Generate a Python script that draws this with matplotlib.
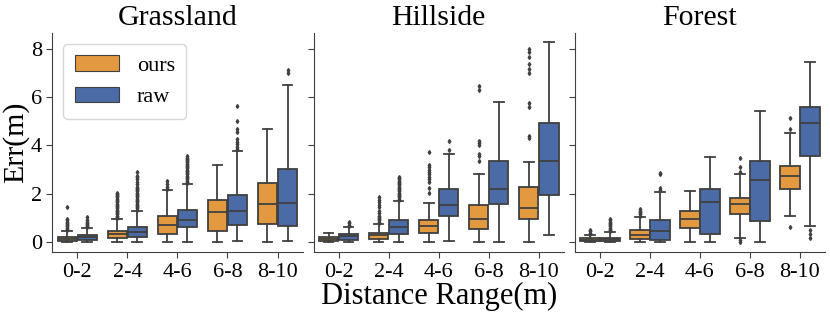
import matplotlib
matplotlib.use("Agg")
import matplotlib.pyplot as plt
from matplotlib.patches import Patch

plt.rcParams['font.family'] = ['Liberation Serif', 'DejaVu Serif']

# categories and colours
ranges = ['0-2', '2-4', '4-6', '6-8', '8-10']
scenes = ['Grassland', 'Hillside', 'Forest']
methods = ['ours', 'raw']
colors = {'ours': '#E3993F', 'raw': '#4A6BA6'}

# box stats per range: [whislo, q1, median, q3, whishi]
grass_ours = [[0, 0.06, 0.14, 0.22, 0.45], [0, 0.19, 0.34, 0.48, 0.95], [0, 0.36, 0.70, 1.08, 2.14],
              [0, 0.46, 1.23, 1.74, 3.20], [0, 0.76, 1.60, 2.44, 4.66]]
grass_raw = [[0, 0.10, 0.20, 0.30, 0.58], [0, 0.22, 0.42, 0.64, 1.30], [0, 0.63, 0.91, 1.35, 2.39],
             [0.03, 0.73, 1.31, 1.97, 3.78], [0.03, 0.68, 1.63, 3.03, 6.48]]
hill_ours = [[0, 0.05, 0.12, 0.20, 0.40], [0, 0.12, 0.28, 0.40, 0.77], [0, 0.40, 0.69, 0.92, 1.64],
             [0, 0.55, 0.95, 1.52, 2.80], [0, 0.94, 1.42, 2.29, 3.32]]
hill_raw = [[0, 0.11, 0.25, 0.34, 0.63], [0, 0.36, 0.61, 0.90, 1.70], [0.03, 1.09, 1.53, 2.18, 3.64],
            [0, 1.56, 2.18, 3.36, 5.79], [0.28, 1.94, 3.36, 4.94, 8.26]]
forest_ours = [[0, 0.03, 0.10, 0.17, 0.30], [0, 0.14, 0.30, 0.50, 1.05], [0, 0.57, 0.94, 1.28, 2.12],
               [0.19, 1.15, 1.56, 1.81, 2.81], [1.09, 2.21, 2.74, 3.16, 4.51]]
forest_raw = [[0, 0.04, 0.12, 0.19, 0.41], [0, 0.11, 0.46, 0.90, 2.08], [0, 0.32, 1.65, 2.21, 3.53],
              [0, 0.87, 2.59, 3.35, 5.42], [0.69, 3.57, 4.94, 5.57, 7.46]]

# outliers per range
grass_ours_fl = [[0.5, 0.55, 0.6, 0.65, 0.7, 0.75, 0.8, 0.85, 0.9, 0.95, 1.45],
                 [1.0, 1.05, 1.1, 1.15, 1.2, 1.25, 1.3, 1.35, 1.4, 1.45, 1.5, 1.55, 1.6, 1.65, 1.7,
                  1.75, 1.8, 1.85, 1.9, 1.95, 2.0, 2.05],
                 [2.2, 2.3, 2.4, 2.55], [], []]
grass_raw_fl = [[0.62, 0.66, 0.7, 0.75, 0.8, 0.85, 0.9, 1.05],
                [1.35, 1.4, 1.45, 1.5, 1.55, 1.6, 1.65, 1.7, 1.75, 1.8, 1.85, 1.9, 1.95, 2.0, 2.05,
                 2.1, 2.15, 2.2, 2.25, 2.3, 2.4, 2.5, 2.6, 2.7, 2.75, 2.9],
                [2.45, 2.5, 2.55, 2.6, 2.65, 2.7, 2.75, 2.8, 2.85, 2.9, 2.95, 3.0, 3.05, 3.1, 3.15,
                 3.2, 3.25, 3.3, 3.35, 3.4, 3.45, 3.5, 3.55],
                [3.85, 3.95, 4.05, 4.15, 4.25, 4.55, 4.7, 5.0, 5.63],
                [7.0, 7.1]]
hill_ours_fl = [[], [0.8, 0.85, 0.9, 0.95, 1.0, 1.05, 1.1, 1.2, 1.3, 1.45, 1.55, 1.65, 1.75, 1.85],
                [2.05, 2.25, 2.5, 2.6, 2.7, 2.8, 2.9, 3.0, 3.1, 3.2, 3.72],
                [3.35, 3.55, 3.65, 4.0, 4.1, 4.2, 6.3, 6.45],
                [4.3, 4.4, 5.6, 5.75, 7.0, 7.15, 7.35, 7.65, 7.85, 8.0]]
hill_raw_fl = [[0.68, 0.73, 0.78, 0.85],
               [1.75, 1.8, 1.85, 1.9, 1.95, 2.0, 2.05, 2.1, 2.15, 2.2, 2.25, 2.3, 2.35, 2.4, 2.45,
                2.5, 2.55, 2.6, 2.65, 2.7],
               [3.8, 4.2], [], []]
forest_ours_fl = [[0.33, 0.38, 0.45, 0.5], [1.1, 1.15, 1.2, 1.25, 1.3, 1.39], [],
                  [0.0, 0.1, 2.9, 3.12, 3.5], [0.63, 4.7, 5.12]]
forest_raw_fl = [[0.45, 0.5, 0.55, 0.6, 0.65, 0.7, 0.75, 0.8, 0.85, 0.9, 0.94],
                 [2.15, 2.25, 2.8, 2.88], [], [], [0.16, 0.32, 0.5]]

panels = [
    (grass_ours, grass_raw, grass_ours_fl, grass_raw_fl),
    (hill_ours, hill_raw, hill_ours_fl, hill_raw_fl),
    (forest_ours, forest_raw, forest_ours_fl, forest_raw_fl),
]

edge = '#404040'

fig, axes = plt.subplots(1, 3, figsize=(8.3, 3.14), dpi=100, sharey=True)
fig.subplots_adjust(left=0.063, right=0.994, top=0.895, bottom=0.197, wspace=0.044)

for ax, scene, (s_ours, s_raw, f_ours, f_raw) in zip(axes, scenes, panels):
    for k, (stats, fls, name) in enumerate([(s_ours, f_ours, 'ours'), (s_raw, f_raw, 'raw')]):
        bxp_stats = []
        for st, fl in zip(stats, fls):
            bxp_stats.append(dict(whislo=st[0], q1=st[1], med=st[2], q3=st[3], whishi=st[4], fliers=fl))
        pos = [i - 0.2 + 0.4 * k for i in range(len(ranges))]
        ax.bxp(bxp_stats, positions=pos, widths=0.39, patch_artist=True, manage_ticks=False,
               boxprops=dict(facecolor=colors[name], edgecolor=edge, linewidth=1.3),
               medianprops=dict(color=edge, linewidth=1.3),
               whiskerprops=dict(color=edge, linewidth=1.3),
               capprops=dict(color=edge, linewidth=1.3),
               flierprops=dict(marker='d', markersize=2, markerfacecolor=edge,
                               markeredgecolor=edge, linestyle='none'))
    ax.set_xticks(range(len(ranges)))
    ax.set_xticklabels(ranges)
    ax.set_xlim(-0.5, 4.5)
    ax.set_title(scene, fontsize=21.5)
    ax.tick_params(labelsize=16, color='0.25', length=4)
    for sp in ['top', 'right']:
        ax.spines[sp].set_visible(False)
    for sp in ['left', 'bottom']:
        ax.spines[sp].set_color('0.25')

axes[0].set_ylim(-0.41, 8.65)
axes[0].set_yticks([0, 2, 4, 6, 8])
axes[0].set_ylabel('Err(m)', fontsize=21.5, labelpad=1)
axes[1].set_xlabel('Distance Range(m)', fontsize=22, labelpad=0)

handles = [Patch(facecolor=colors[m], edgecolor=edge, linewidth=0.8, label=m) for m in methods]
axes[0].legend(handles=handles, loc='upper left', fontsize=16, handlelength=2.0, handleheight=0.7,
               handletextpad=0.8, labelspacing=0.5, borderpad=0.5, borderaxespad=0.5,
               bbox_to_anchor=(0, 1))

fig.savefig('out.png', dpi=100)
